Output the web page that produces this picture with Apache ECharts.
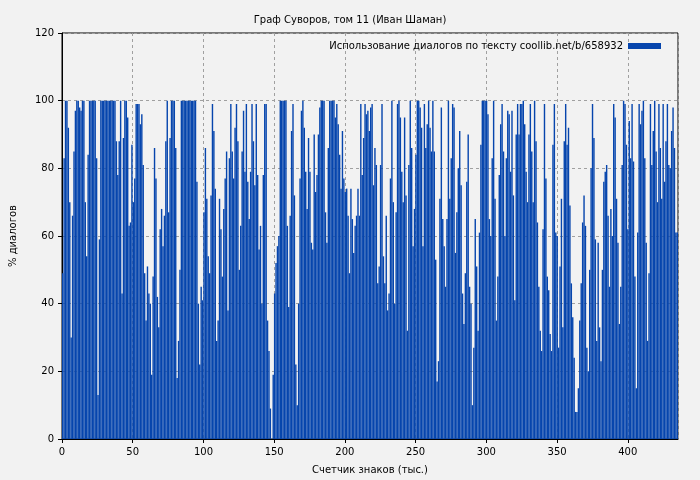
<!DOCTYPE html>
<html>
<head>
<meta charset="utf-8">
<script src="https://cdn.jsdelivr.net/npm/echarts@6/dist/echarts.min.js"></script>
<style>
  html, body { margin: 0; padding: 0; background: #f2f2f2; }
  #chart { width: 700px; height: 480px; }
</style>
</head>
<body>
<div id="chart"></div>
<script>
// Share of dialogue per thousand characters
const dialogPct = [
  49,83,100,100,92,70,30,66,85,97,100,100,98,97,100,100,70,54,84,100,100,100,100,100,83,13,59,
  100,100,100,100,100,100,100,100,100,100,100,88,78,88,100,43,89,100,100,95,63,64,87,70,77,99,99,99,
  93,96,81,49,35,51,43,40,19,48,86,77,42,33,62,68,57,66,88,
  100,67,89,100,100,100,86,18,29,50,100,100,100,100,100,100,100,100,100,100,100,
  76,40,22,45,41,67,86,71,54,49,72,99,91,74,29,35,71,62,48,68,77,85,38,83,99,85,77,92,99,88,50,
  63,85,97,79,99,76,65,79,99,88,75,99,78,56,63,40,78,99,99,35,26,9,0,
  19,43,52,57,60,100,100,100,100,100,63,39,66,91,99,72,22,10,40,77,97,100,92,79,68,89,79,58,56,90,
  73,78,90,98,100,100,100,67,58,86,100,100,100,100,95,99,93,84,74,91,77,73,74,66,49,74,65,55,63,66,
  74,66,99,78,89,99,96,97,91,98,99,
  75,86,81,46,51,81,99,54,46,66,38,43,77,100,70,40,67,99,100,95,79,70,95,72,32,81,100,86,57,68,
  84,100,100,98,92,57,99,86,93,100,92,85,100,85,53,17,23,71,98,65,57,45,65,100,71,83,99,98,55,67,
  80,91,75,43,34,49,76,90,45,40,10,27,65,
  51,32,61,87,100,100,100,100,96,65,60,83,100,71,35,48,78,93,99,85,60,83,97,96,79,97,72,41,90,99,
  90,99,99,100,93,79,70,90,99,85,70,100,88,64,45,32,26,62,99,77,48,44,31,26,87,99,61,60,27,51,
  71,33,88,99,87,92,69,46,36,24,8,
  8,15,35,46,64,72,63,27,20,50,80,99,89,59,29,58,33,23,50,76,79,81,66,45,68,60,99,95,71,58,
  34,45,81,100,99,87,62,94,83,99,82,48,15,61,99,93,97,100,83,58,29,49,99,81,91,100,85,70,99,86,
  71,99,76,88,99,81,80,91,98,86,61,61
];
const charCounts = dialogPct.map((v, i) => i); // thousands of characters
const xTicks = [0, 50, 100, 150, 200, 250, 300, 350, 400];
const yTicks = [0, 20, 40, 60, 80, 100, 120];

const chart = echarts.init(document.getElementById('chart'));
const gridLine = { show: true, lineStyle: { color: '#a0a0a0', type: [3, 3], width: 1 } };

chart.setOption({
  animation: false,
  backgroundColor: '#f2f2f2',
  textStyle: { fontFamily: 'DejaVu Sans' },
  title: {
    text: 'Граф Суворов, том 11 (Иван Шаман)',
    left: 'center', top: 10,
    textStyle: { fontSize: 10, fontWeight: 'normal', color: '#000' }
  },
  legend: {
    top: 36, right: 34, align: 'right',
    itemWidth: 33, itemHeight: 6, itemGap: 0,
    textStyle: { fontSize: 10, color: '#000' },
    data: [{ name: 'Использование диалогов по тексту coollib.net/b/658932', icon: 'rect' }]
  },
  grid: {
    left: 60, right: 22, top: 33, bottom: 41,
    show: true, borderColor: '#000', borderWidth: 1, backgroundColor: 'transparent'
  },
  xAxis: [
    {
      type: 'category', data: charCounts, show: false
    },
    {
      type: 'value', position: 'bottom', min: 0, max: 435.5, interval: 50,
      name: 'Счетчик знаков (тыс.)', nameLocation: 'middle', nameGap: 26,
      nameTextStyle: { fontSize: 10, color: '#000' },
      axisLine: { show: true, lineStyle: { color: '#000' } },
      axisTick: { show: true, length: 4, lineStyle: { color: '#000' } },
      axisLabel: { fontSize: 10, color: '#000', showMaxLabel: false,
        formatter: v => xTicks.includes(v) ? String(v) : '' },
      splitLine: gridLine
    }
  ],
  yAxis: {
    type: 'value', min: 0, max: 120, interval: 20,
    name: '% диалогов', nameLocation: 'middle', nameGap: 44,
    nameTextStyle: { fontSize: 10, color: '#000' },
    axisLine: { show: true, lineStyle: { color: '#000' } },
    axisTick: { show: true, length: 4, lineStyle: { color: '#000' } },
    axisLabel: { fontSize: 10, color: '#000',
      formatter: v => yTicks.includes(v) ? String(v) : '' },
    splitLine: gridLine
  },
  series: [{
    name: 'Использование диалогов по тексту coollib.net/b/658932',
    type: 'bar', xAxisIndex: 0,
    data: dialogPct,
    barCategoryGap: '0%', barWidth: '100%',
    itemStyle: { color: '#0645ad' }
  }]
});
</script>
</body>
</html>
